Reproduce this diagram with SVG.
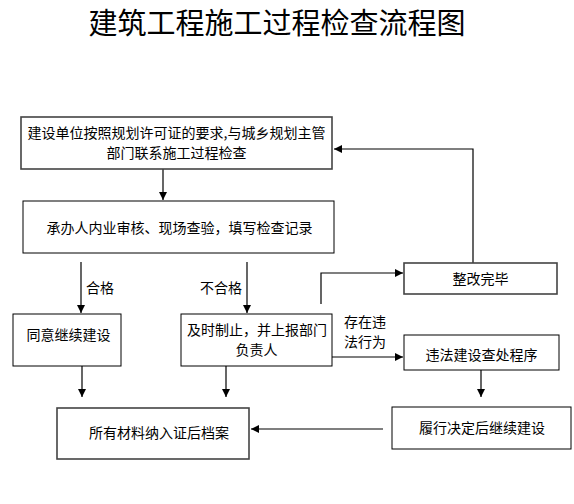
<svg xmlns="http://www.w3.org/2000/svg" width="574" height="504" viewBox="0 0 574 504">
<defs>
<marker id="ah" markerUnits="userSpaceOnUse" markerWidth="9" markerHeight="8" refX="8" refY="4" orient="auto">
<path d="M0,0 L8,4 L0,8 z" fill="#000"/>
</marker>
<style>
text{font-family:"Noto Sans CJK SC","Liberation Sans",sans-serif;font-size:14px;fill:#000}
.t{font-size:29px;text-anchor:middle}
.c{text-anchor:middle}
.b{fill:#fff;stroke:#000;stroke-width:1}
.g{fill:#fff;stroke:#444;stroke-width:1.6}
.ln{fill:none;stroke:#000;stroke-width:1.2}
.ar{fill:none;stroke:#000;stroke-width:1.2;marker-end:url(#ah)}
</style>
</defs>
<rect width="574" height="504" fill="#fff"/>
<text class="t" x="277" y="34">建筑工程施工过程检查流程图</text>

<g id="connectors">
<line class="ar" x1="163" y1="169" x2="163" y2="200"/>
<line class="ar" x1="81" y1="262" x2="81" y2="313"/>
<line class="ar" x1="247" y1="262" x2="247" y2="313"/>
<line class="ar" x1="82" y1="366" x2="82" y2="397"/>
<line class="ar" x1="226" y1="366" x2="226" y2="397"/>
<path class="ar" d="M473,263 V149 H334"/>
<path class="ar" d="M321,304 V273 H403"/>
<line class="ar" x1="332" y1="357" x2="403" y2="357"/>
<line class="ar" x1="481" y1="370" x2="481" y2="397"/>
<line class="ar" x1="383" y1="429" x2="251" y2="429"/>
<text x="86" y="293">合格</text>
<text x="242" y="293" text-anchor="end">不合格</text>
<text x="344" y="327">存在违</text>
<text x="344" y="347">法行为</text>
</g>

<g id="n1">
<rect class="g" x="21" y="117" width="311" height="52"/>
<text class="c" x="176.5" y="138">建设单位按照规划许可证的要求,与城乡规划主管</text>
<text class="c" x="176.5" y="158">部门联系施工过程检查</text>
</g>
<g id="n2">
<rect class="b" x="23" y="201" width="311" height="52"/>
<text class="c" x="179.5" y="233">承办人内业审核、现场查验，填写检查记录</text>
</g>
<g id="n3">
<rect class="b" x="13" y="314" width="108" height="52"/>
<text class="c" x="68.5" y="340">同意继续建设</text>
</g>
<g id="n4">
<rect class="b" x="181" y="314" width="151" height="52"/>
<text class="c" x="257" y="335">及时制止，并上报部门</text>
<text class="c" x="256.5" y="355">负责人</text>
</g>
<g id="n5">
<rect class="g" x="404" y="263" width="153" height="31"/>
<text class="c" x="480.5" y="284">整改完毕</text>
</g>
<g id="n6">
<rect class="b" x="404" y="335" width="155" height="35"/>
<text class="c" x="481.5" y="360">违法建设查处程序</text>
</g>
<g id="n7">
<rect class="b" x="392" y="407" width="179" height="42"/>
<text class="c" x="482" y="433">履行决定后继续建设</text>
</g>
<g id="n8">
<rect class="g" x="57" y="408" width="192" height="51"/>
<text x="89" y="438">所有材料纳入证后档案</text>
</g>
</svg>
